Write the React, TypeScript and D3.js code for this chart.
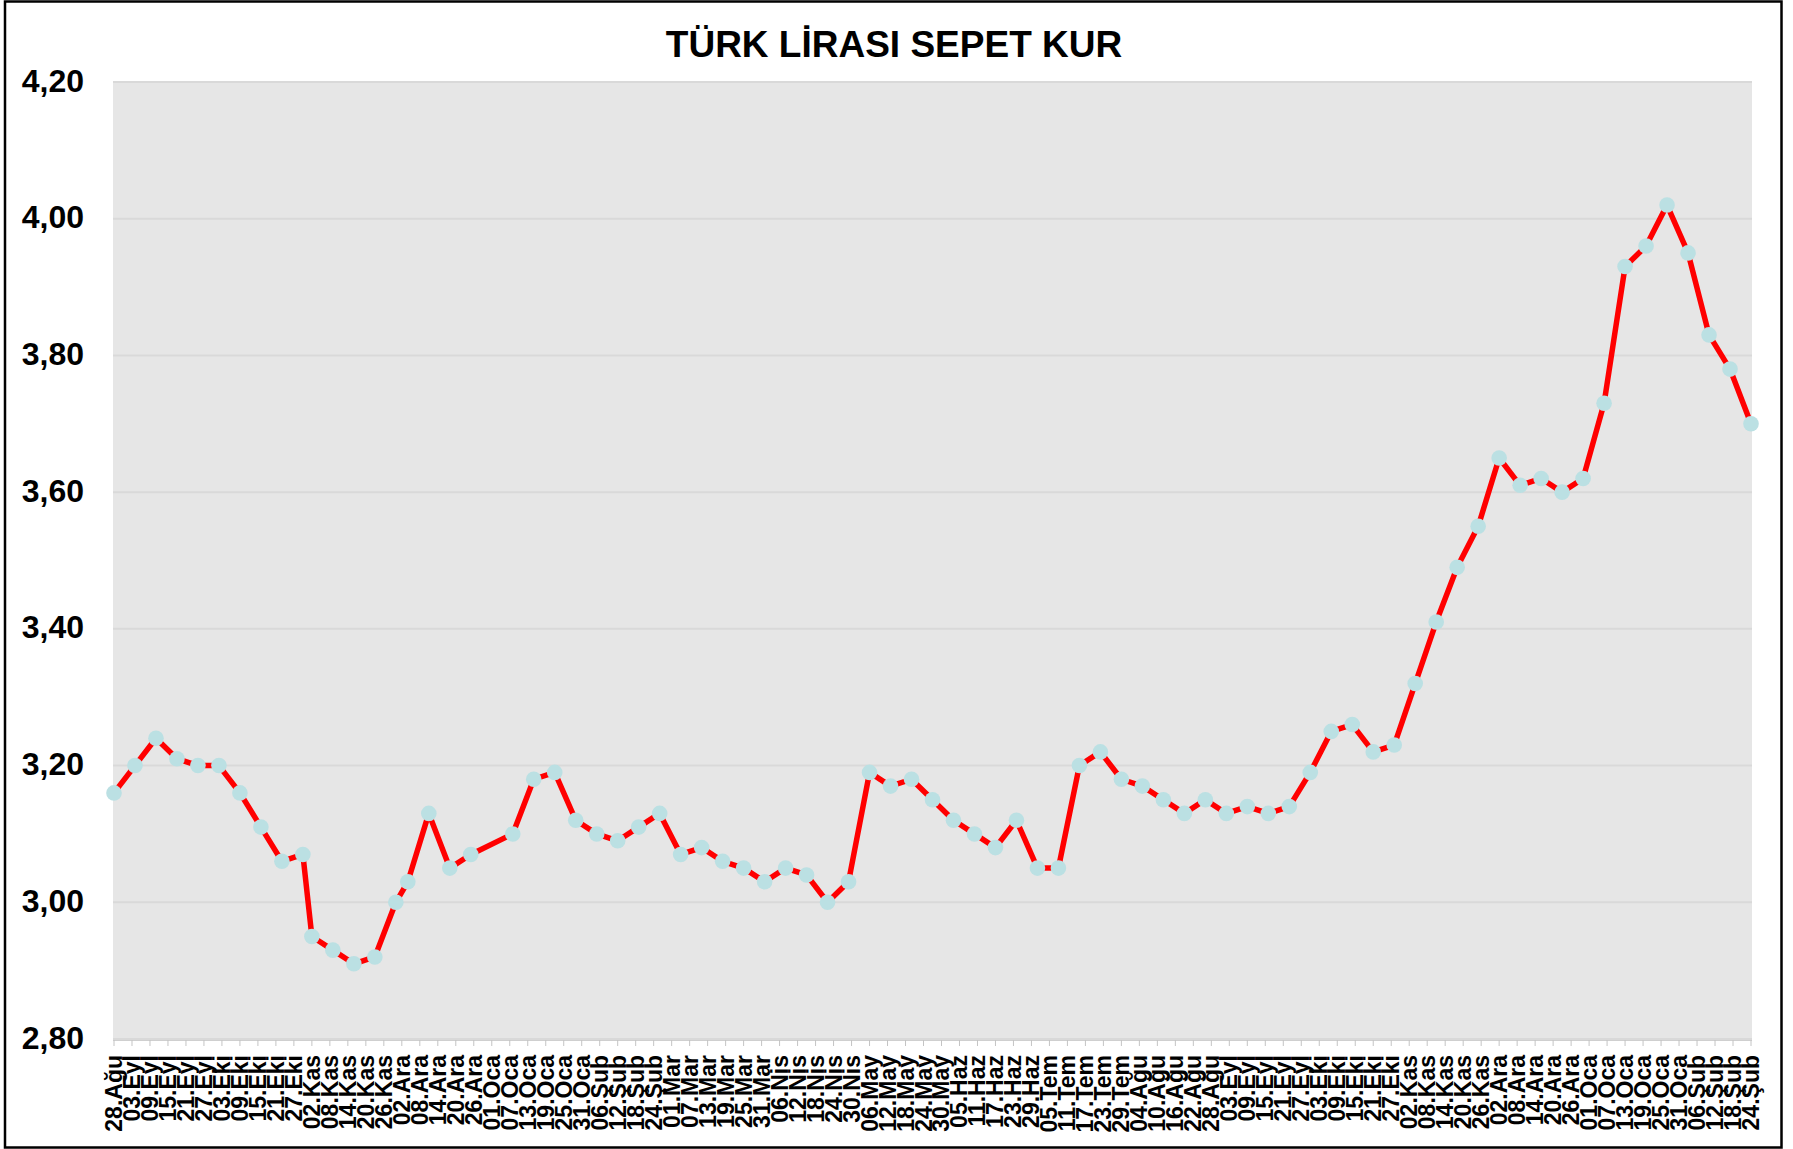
import React from "react";
import * as d3 from "d3";

// weekly basket rate readings (one week missing around new year)
const dates = [
  "2015-08-28", "2015-09-04", "2015-09-11", "2015-09-18", "2015-09-25",
  "2015-10-02", "2015-10-09", "2015-10-16", "2015-10-23", "2015-10-30",
  "2015-11-02", "2015-11-09", "2015-11-16", "2015-11-23", "2015-11-30",
  "2015-12-04", "2015-12-11", "2015-12-18", "2015-12-25",
  "2016-01-08", "2016-01-15", "2016-01-22", "2016-01-29",
  "2016-02-05", "2016-02-12", "2016-02-19", "2016-02-26",
  "2016-03-04", "2016-03-11", "2016-03-18", "2016-03-25",
  "2016-04-01", "2016-04-08", "2016-04-15", "2016-04-22", "2016-04-29",
  "2016-05-06", "2016-05-13", "2016-05-20", "2016-05-27",
  "2016-06-03", "2016-06-10", "2016-06-17", "2016-06-24",
  "2016-07-01", "2016-07-08", "2016-07-15", "2016-07-22", "2016-07-29",
  "2016-08-05", "2016-08-12", "2016-08-19", "2016-08-26",
  "2016-09-02", "2016-09-09", "2016-09-16", "2016-09-23", "2016-09-30",
  "2016-10-07", "2016-10-14", "2016-10-21", "2016-10-28",
  "2016-11-04", "2016-11-11", "2016-11-18", "2016-11-25",
  "2016-12-02", "2016-12-09", "2016-12-16", "2016-12-23", "2016-12-30",
  "2017-01-06", "2017-01-13", "2017-01-20", "2017-01-27",
  "2017-02-03", "2017-02-10", "2017-02-17", "2017-02-24",
];

const values = [
  3.16, 3.2, 3.24, 3.21, 3.2,
  3.2, 3.16, 3.11, 3.06, 3.07,
  2.95, 2.93, 2.91, 2.92, 3.0,
  3.03, 3.13, 3.05, 3.07,
  3.1, 3.18, 3.19, 3.12,
  3.1, 3.09, 3.11, 3.13,
  3.07, 3.08, 3.06, 3.05,
  3.03, 3.05, 3.04, 3.0, 3.03,
  3.19, 3.17, 3.18, 3.15,
  3.12, 3.1, 3.08, 3.12,
  3.05, 3.05, 3.2, 3.22, 3.18,
  3.17, 3.15, 3.13, 3.15,
  3.13, 3.14, 3.13, 3.14, 3.19,
  3.25, 3.26, 3.22, 3.23,
  3.32, 3.41, 3.49, 3.55,
  3.65, 3.61, 3.62, 3.6, 3.62,
  3.73, 3.93, 3.96, 4.02,
  3.95, 3.83, 3.78, 3.7,
];

const monthNames = ["Oca", "Şub", "Mar", "Nis", "May", "Haz", "Tem", "Ağu", "Eyl", "Eki", "Kas", "Ara"];
const yTicks = [2.8, 3.0, 3.2, 3.4, 3.6, 3.8, 4.0, 4.2];
const axisStart = "2015-08-28";
const axisEnd = "2017-02-24";
const tickStepDays = 6;

const W = 1793;
const H = 1149;
const FONT = "'Liberation Sans', Arial, Helvetica, sans-serif";

const App = () => {
  const parse = d3.timeParse("%Y-%m-%d");
  const points = dates.map((d, i) => ({ date: parse(d) as Date, value: values[i] }));

  const plot = { left: 113, right: 1752, top: 82, bottom: 1039 };

  const x = d3
    .scaleTime()
    .domain([parse(axisStart) as Date, parse(axisEnd) as Date])
    .range([plot.left + 1, plot.right - 1]);

  const y = d3.scaleLinear().domain([2.8, 4.2]).range([plot.bottom, plot.top]);

  const xTicks = d3.timeDay.range(
    parse(axisStart) as Date,
    d3.timeDay.offset(parse(axisEnd) as Date, 1),
    tickStepDays
  );
  const dayFmt = d3.timeFormat("%d");
  const tickLabel = (d: Date) => `${dayFmt(d)}.${monthNames[d.getMonth()]}`;
  const yFmt = (v: number) => v.toFixed(2).replace(".", ",");

  const line = d3
    .line<{ date: Date; value: number }>()
    .x((d) => x(d.date))
    .y((d) => y(d.value));

  return (
    <svg width={W} height={H} style={{ position: "absolute", left: 0, top: 0, background: "#fff" }}>
      <rect x={5} y={1.5} width={1776.5} height={1146} fill="#fff" stroke="#000" strokeWidth={2.5} />

      <text x={894} y={57} textAnchor="middle" fontFamily={FONT} fontWeight="bold" fontSize={37} fill="#000">
        TÜRK LİRASI SEPET KUR
      </text>

      <rect x={plot.left} y={plot.top} width={plot.right - plot.left} height={plot.bottom - plot.top} fill="#e6e6e6" />

      {yTicks.map((t) => (
        <g key={t}>
          <line x1={plot.left} x2={plot.right} y1={y(t)} y2={y(t)} stroke="#d9d9d9" strokeWidth={2} />
          <text
            x={84}
            y={y(t) + 9.5}
            textAnchor="end"
            fontFamily={FONT}
            fontWeight="bold"
            fontSize={32}
            fill="#000"
          >
            {yFmt(t)}
          </text>
        </g>
      ))}

      <line x1={plot.left} x2={plot.right} y1={1040.5} y2={1040.5} stroke="#cfcfcf" strokeWidth={1} />
      {xTicks.map((t, i) => (
        <g key={i}>
          <line x1={x(t)} x2={x(t)} y1={1040} y2={1046} stroke="#c4c4c4" strokeWidth={1} />
          <text
            transform={`translate(${x(t) + 8},1055) rotate(-90)`}
            textAnchor="end"
            fontFamily={FONT}
            fontWeight="bold"
            fontSize={23}
            fill="#000"
          >
            {tickLabel(t)}
          </text>
        </g>
      ))}

      <path d={line(points) || ""} fill="none" stroke="#ff0000" strokeWidth={5.5} strokeLinejoin="round" />
      {points.map((p, i) => (
        <circle key={i} cx={x(p.date)} cy={y(p.value)} r={7.8} fill="#bbe0e3" />
      ))}
    </svg>
  );
};

export default App;
